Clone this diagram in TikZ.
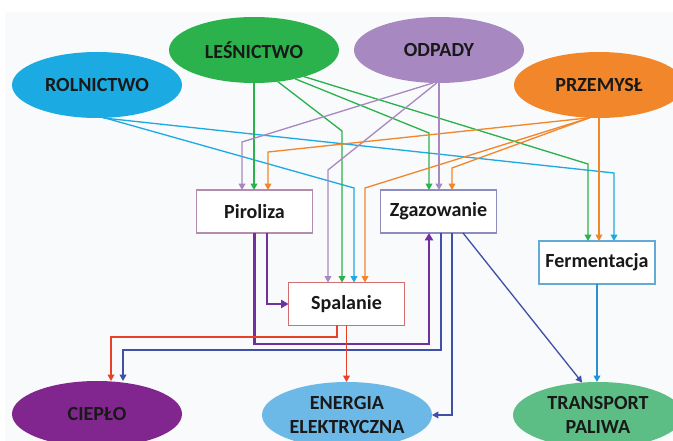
\documentclass[tikz,border=0pt]{standalone}
\usepackage{fontspec}
\setmainfont{Carlito}[BoldFont={Carlito Bold}]
\usetikzlibrary{shapes.geometric,arrows.meta}
\definecolor{bgtint}{RGB}{249,250,251}
\definecolor{rolblue}{RGB}{27,171,226}
\definecolor{lesgreen}{RGB}{43,178,76}
\definecolor{odplilac}{RGB}{168,136,193}
\definecolor{przorange}{RGB}{241,134,42}
\definecolor{ciepurple}{RGB}{128,38,142}
\definecolor{eneblue}{RGB}{108,184,230}
\definecolor{tragreen}{RGB}{92,190,132}
\definecolor{pirline}{RGB}{112,48,160}
\definecolor{zgaline}{RGB}{62,80,168}
\definecolor{spaline}{RGB}{232,65,40}
\definecolor{ferline}{RGB}{40,145,210}
\definecolor{pirframe}{RGB}{180,140,175}
\definecolor{zgaframe}{RGB}{140,140,190}
\definecolor{spaframe}{RGB}{210,110,110}
\definecolor{ferframe}{RGB}{100,170,215}

\begin{document}
\begin{tikzpicture}[scale=0.2]
\tikzstyle{every node}+=[inner sep=0pt, outer sep=0pt, text=black!90, font=\fontsize{11.4}{13.7}\selectfont\bfseries]
\tikzstyle{srcnode}=[ellipse, minimum width=3.4cm, minimum height=1.32cm, align=center]
\tikzstyle{procbox}=[draw, fill=white, minimum width=2.32cm, minimum height=0.86cm, line width=0.6pt]
\tikzstyle{flowarrow}=[line width=0.75pt, -{Triangle[length=3.6pt,width=3.8pt]}]
\tikzstyle{heavyarrow}=[line width=1.4pt, -{Triangle[length=4.2pt,width=4.6pt]}]
\useasboundingbox (0,0) rectangle (67.3,-44.1);
\fill [bgtint] (0.5,-1.2) rectangle (67.3,-44.1);
% sources
\node [srcnode, fill=rolblue] (rol) at (9.7,-8.5) {ROLNICTWO};
\node [srcnode, fill=lesgreen] (les) at (25.4,-5.0) {LEŚNICTWO};
\node [srcnode, fill=odplilac] (odp) at (43.9,-5.0) {ODPADY};
\node [srcnode, fill=przorange] (prz) at (59.9,-8.5) {PRZEMYSŁ};
% processes
\node [procbox, draw=pirframe] (pir) at (25.45,-21.15) {Piroliza};
\node [procbox, draw=zgaframe] (zga) at (43.85,-21.15) {Zgazowanie};
\node [procbox, draw=spaframe] (spa) at (34.65,-30.4) {Spalanie};
\node [procbox, draw=ferframe] (fer) at (59.7,-26.25) {Fermentacja};
% products
\node [srcnode, fill=ciepurple] (cie) at (9.7,-41.4) {CIEPŁO};
\node [srcnode, fill=eneblue] (ene) at (34.7,-41.5) {ENERGIA\\ELEKTRYCZNA};
\node [srcnode, fill=tragreen] (tra) at (59.8,-41.5) {TRANSPORT\\PALIWA};
% inputs
\draw [rolblue, flowarrow] (rol.-80) -- (61.4,-17.3) -- (61.4,-17.3 |- fer.north);
\draw [rolblue, flowarrow] (rol.-77) -- (35.4,-18.8) -- (35.4,-18.8 |- spa.north);
\draw [lesgreen, flowarrow] (les.south) -- (les.south |- pir.north);
\draw [lesgreen, flowarrow] (les.-53) -- (34.2,-13.1) -- (34.2,-13.1 |- spa.north);
\draw [lesgreen, flowarrow] (les.-35) -- (42.9,-13.3) -- (42.9,-13.3 |- zga.north);
\draw [lesgreen, flowarrow] (les.-28) -- (58.8,-16.4) -- (58.8,-16.4 |- fer.north);
\draw [odplilac, flowarrow] (odp.-100) -- (24.2,-14.2) -- (24.2,-14.2 |- pir.north);
\draw [odplilac, flowarrow] (odp.-94) -- (32.8,-17.0) -- (32.8,-17.0 |- spa.north);
\draw [odplilac, flowarrow] (odp.south) -- (odp.south |- zga.north);
\draw [przorange, flowarrow] (prz.-106) -- (26.8,-15.2) -- (26.8,-15.2 |- pir.north);
\draw [przorange, flowarrow] (prz.-106) -- (36.5,-18.8) -- (36.5,-18.8 |- spa.north);
\draw [przorange, flowarrow] (prz.-106) -- (45.2,-16.8) -- (45.2,-16.8 |- zga.north);
\draw [przorange, flowarrow] (prz.south) -- (prz.south |- fer.north);
% outputs
\draw [pirline, heavyarrow] (pir.south -| 26.7,0) |- (spa.west);
\draw [pirline, heavyarrow] (pir.south) |- (42.9,-34.4) -- (42.9,-34.4 |- zga.south);
\draw [zgaline, flowarrow] (zga.south -| 44.1,0) |- (12.3,-35.0) -- (12.3,-35.0 |- cie.north);
\draw [zgaline, flowarrow] (zga.south -| 45.2,0) |- (ene.east);
\draw [zgaline, flowarrow] (zga.south -| 46.3,0) -- (tra.116);
\draw [spaline, flowarrow] (spa.south -| 33.7,0) |- (11.1,-33.7) -- (11.1,-33.7 |- cie.north);
\draw [spaline, flowarrow] (spa.south) -- (spa.south |- ene.north);
\draw [ferline, flowarrow] (fer.south) -- (fer.south |- tra.north);
\end{tikzpicture}
\end{document}
